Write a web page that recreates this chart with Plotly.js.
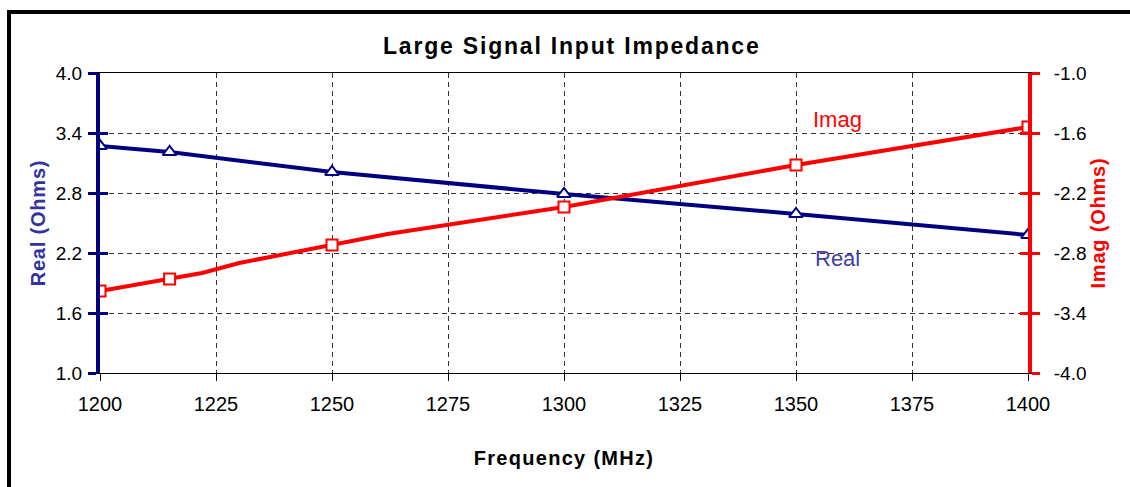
<!DOCTYPE html>
<html>
<head>
<meta charset="utf-8">
<script src="https://cdn.plot.ly/plotly-3.0.1.min.js"></script>
<style>
  html, body { margin: 0; padding: 0; overflow: hidden; background: #fff; }
  #chart { position: absolute; left: 0; top: 0; width: 1130px; height: 487px; }
  #frame { position: absolute; left: 7px; top: 10px; width: 1300px; height: 700px;
           border-left: 4px solid #000; border-top: 4px solid #000; pointer-events: none; }
  .gtitle { letter-spacing: 1.8px; }
  .xtitle { letter-spacing: 1.3px; }
  .ytitle, .y2title { letter-spacing: 0.8px; }
</style>
</head>
<body>
<div id="chart"></div>
<div id="frame"></div>
<script>
// Data
const freq = [1200, 1215, 1250, 1300, 1350, 1400];
const realOhms = [3.27, 3.21, 3.01, 2.79, 2.59, 2.38];
const imagOhms = [-3.18, -3.06, -2.72, -2.34, -1.92, -1.54];
// The Imag curve has a few extra (unmarked) points
const imagCurveFreq = [1200, 1215, 1222, 1230, 1250, 1262, 1300, 1350, 1400];
const imagCurveOhms = [-3.18, -3.06, -3.00, -2.90, -2.72, -2.61, -2.34, -1.92, -1.54];
const xTicks = [1200, 1225, 1250, 1275, 1300, 1325, 1350, 1375, 1400];
const realTicks = [1.0, 1.6, 2.2, 2.8, 3.4, 4.0];
const imagTicks = [-4.0, -3.4, -2.8, -2.2, -1.6, -1.0];

const NAVY = '#000080';
const RED = '#FF0000';
const FONT = '"Liberation Sans", Arial, sans-serif';

const traces = [
  { x: freq, y: realOhms, type: 'scatter', mode: 'lines+markers', name: 'Real',
    xaxis: 'x', yaxis: 'y',
    line: { color: NAVY, width: 4 },
    marker: { symbol: 'triangle-up', size: 12, color: '#fff', line: { color: NAVY, width: 2 } } },
  { x: imagCurveFreq, y: imagCurveOhms, type: 'scatter', mode: 'lines', name: 'Imag',
    xaxis: 'x', yaxis: 'y2',
    line: { color: RED, width: 4 } },
  { x: freq, y: imagOhms, type: 'scatter', mode: 'markers', name: 'Imag pts',
    xaxis: 'x', yaxis: 'y2',
    marker: { symbol: 'square', size: 11, color: '#fff', line: { color: RED, width: 2 } } },
  // helper traces (no visible marks) to activate the inside-tick overlay axes
  { x: [freq[0]], y: [realOhms[0]], xaxis: 'x', yaxis: 'y3', mode: 'markers',
    marker: { opacity: 0 }, hoverinfo: 'skip' },
  { x: [freq[0]], y: [imagOhms[0]], xaxis: 'x', yaxis: 'y4', mode: 'markers',
    marker: { opacity: 0 }, hoverinfo: 'skip' }
];

const tickFmt = v => v.toFixed(1);

const layout = {
  width: 1130, height: 487,
  margin: { l: 100, r: 102, t: 73, b: 114 },
  paper_bgcolor: '#fff', plot_bgcolor: '#fff',
  showlegend: false,
  font: { family: FONT, color: '#000' },
  title: { text: '<b>Large Signal Input Impedance</b>', font: { family: FONT, size: 23, color: '#000' },
           x: 0.506, xanchor: 'center', y: 0.905, yanchor: 'middle' },
  xaxis: {
    range: [1200, 1400], tickmode: 'array', tickvals: xTicks, ticktext: xTicks.map(String),
    showgrid: true, gridcolor: '#333', griddash: '5px,4px', gridwidth: 1,
    showline: true, linecolor: '#000', linewidth: 1, mirror: true,
    ticks: 'outside', ticklen: 7, tickcolor: '#000', tickwidth: 1,
    ticklabelstandoff: 6,
    tickfont: { family: FONT, size: 20, color: '#000' },
    zeroline: false,
    title: { text: '<b>Frequency (MHz)</b>', font: { family: FONT, size: 20, color: '#000' }, standoff: 36 }
  },
  yaxis: {
    range: [1.0, 4.0], tickmode: 'array', tickvals: realTicks, ticktext: realTicks.map(tickFmt),
    showgrid: true, gridcolor: '#333', griddash: '5px,4px', gridwidth: 1,
    showline: true, linecolor: NAVY, linewidth: 4,
    ticks: 'outside', ticklen: 8, tickcolor: NAVY, tickwidth: 3,
    ticklabelstandoff: 2,
    tickfont: { family: FONT, size: 19, color: '#000' },
    zeroline: false,
    title: { text: '<b>Real (Ohms)</b>', font: { family: FONT, size: 20, color: '#3333A0' }, standoff: 6 }
  },
  yaxis2: {
    range: [-4.0, -1.0], overlaying: 'y', side: 'right',
    tickmode: 'array', tickvals: imagTicks, ticktext: imagTicks.map(tickFmt),
    showgrid: false, zeroline: false,
    showline: true, linecolor: RED, linewidth: 4,
    ticks: 'outside', ticklen: 8, tickcolor: RED, tickwidth: 3,
    ticklabelstandoff: 10,
    tickfont: { family: FONT, size: 19, color: '#000' },
    title: { text: '<b>Imag (Ohms)</b>', font: { family: FONT, size: 20, color: RED }, standoff: 4 }
  },
  yaxis3: {
    range: [1.0, 4.0], overlaying: 'y', side: 'left', tickmode: 'array', tickvals: realTicks,
    showticklabels: false, showgrid: false, zeroline: false, showline: false,
    ticks: 'inside', ticklen: 8, tickcolor: NAVY, tickwidth: 3
  },
  yaxis4: {
    range: [-4.0, -1.0], overlaying: 'y', side: 'right', tickmode: 'array', tickvals: imagTicks,
    showticklabels: false, showgrid: false, zeroline: false, showline: false,
    ticks: 'inside', ticklen: 8, tickcolor: RED, tickwidth: 3
  },
  annotations: [
    { text: 'Imag', xref: 'x', yref: 'y2', x: 1359, y: -1.46, showarrow: false,
      font: { family: FONT, size: 22, color: RED } },
    { text: 'Real', xref: 'x', yref: 'y', x: 1359, y: 2.15, showarrow: false,
      font: { family: FONT, size: 22, color: '#3F3FA8' } }
  ]
};

Plotly.newPlot('chart', traces, layout, { staticPlot: true, displayModeBar: false });
</script>
</body>
</html>
